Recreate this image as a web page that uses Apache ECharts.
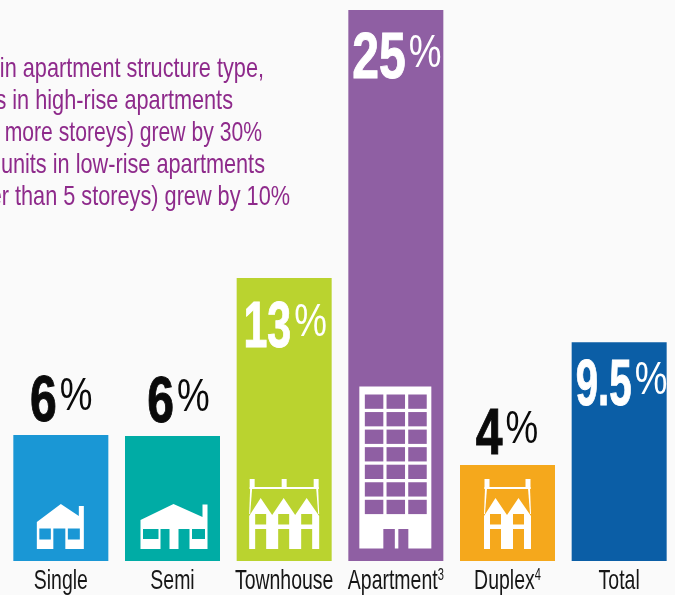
<!DOCTYPE html>
<html>
<head>
<meta charset="utf-8">
<style>
  html, body { margin: 0; padding: 0; background: #fafafa; }
  #chart { width: 675px; height: 595px; }
</style>
<script src="https://cdn.jsdelivr.net/npm/echarts@6/dist/echarts.min.js"></script>
</head>
<body>
<div id="chart"></div>
<script>
const categories = ["Single", "Semi", "Townhouse", "Apartment", "Duplex", "Total"];
const superscripts = ["", "", "", "3", "4", ""];
// bars are not drawn in proportion in the source, so heights are read off the picture
const barHeights = [5.72, 5.67, 12.84, 25, 4.36, 9.93];
const valueLabels = ["6", "6", "13", "25", "4", "9.5"];
const labelInside = [false, false, true, true, false, true];
const barColors = ["#1a97d5", "#00aca5", "#bad32f", "#8f5fa3", "#f5a81c", "#0b5ea6"];
const noteLines = [
  "in apartment structure type,",
  "s in high-rise apartments",
  "r more storeys) grew by 30%",
  "units in low-rise apartments",
  "er than 5 storeys) grew by 10%",
];

// no condensed face is installed, so text gets squeezed with scaleX
const sans = '"Liberation Sans", sans-serif';
const noteRight = [264, 233, 262, 265, 290];
const noteScale = [0.775, 0.775, 0.755, 0.775, 0.775];
const labelSplit = [-4, 1.5, 7, 10, -5, 12.5];
const labelDy = [-32, -32, 51, 50, -29, 45];
const labelScale = [0.74, 0.74, 0.66, 0.74, 0.74, 0.62];

// icon drawing, px relative to bar centre and baseline
const rect = (x, y, w, h, fill) => ({ type: "rect", shape: { x, y, width: w, height: h }, style: { fill } });
const poly = (points, fill) => ({ type: "polygon", shape: { points }, style: { fill } });

function singleIcon(c) {
  return [
    poly([[-24, -39], [0, -57], [18, -45], [18, -55], [23, -55], [23, -12], [-24, -12]], "#fff"),
    rect(-21.5, -32.5, 11.5, 11, c),
    rect(-7.5, -32.5, 12, 20.5, c),
    rect(7, -32.5, 12, 11, c),
  ];
}
function semiIcon(c) {
  return [
    poly([[-32, -41], [1, -57], [30, -44], [30, -56.5], [35, -56.5], [35, -12], [-32, -12]], "#fff"),
    rect(-29.5, -32, 15.5, 10, c),
    rect(-12, -32, 9, 20, c),
    rect(6, -32, 11, 20, c),
    rect(19.5, -32, 13, 10, c),
  ];
}
function rowIcon(c, n) {
  const half = 11.5;
  const left = -half * n - 0.5;
  const right = half * n + 0.5;
  const top = -82;
  const shapes = [
    poly([[left + 1, top + 9], [left + 3, top + 9], [left + 1, -47], [left, -47]], "#fff"),
    poly([[right - 3, top + 9], [right - 1, top + 9], [right, -47], [right - 1, -47]], "#fff"),
    rect(left + 0.5, top, 5, 10, "#fff"),
    rect(right - 5.5, top, 5, 10, "#fff"),
    rect(left + 0.5, top + 8, right - left - 1, 2, "#fff"),
  ];
  if (n === 3) shapes.push(rect(-2.5, top, 5, 10, "#fff"));
  const pts = [[left, -45]];
  for (let i = 0; i < n; i++) {
    const mid = left + half + i * half * 2;
    pts.push([mid, -63]);
    pts.push([mid + half, -46]);
  }
  pts[pts.length - 1] = [right, -45];
  pts.push([right, -12], [left, -12]);
  shapes.push(poly(pts, "#fff"));
  for (let i = 0; i < n; i++) {
    const mid = left + half + i * half * 2;
    shapes.push(rect(mid - 5.5, -47, 11, 10.5, c));
    shapes.push(rect(mid - 5.5, -32, 11, 20, c));
  }
  return shapes;
}
function towerIcon(c) {
  const shapes = [rect(-36.5, -174.5, 72, 162, "#fff")];
  for (let r = 0; r < 7; r++) {
    for (let k = 0; k < 3; k++) {
      shapes.push(rect(-31 + k * 21.7, -166.5 + r * 17.55, 18.5, 14.3, c));
    }
  }
  shapes.push(rect(-12.5, -32, 11.5, 20, c));
  shapes.push(rect(2.5, -32, 10, 20, c));
  return shapes;
}
const iconBuilders = [singleIcon, semiIcon, (c) => rowIcon(c, 3), towerIcon, (c) => rowIcon(c, 2), null];

function valueTexts(i, p) {
  const fill = labelInside[i] ? "#fff" : "#0a0a0a";
  const x = labelSplit[i];
  const y = p + labelDy[i];
  return [
    {
      type: "text", x, y, scaleX: labelScale[i],
      style: {
        text: valueLabels[i], align: "right", verticalAlign: "middle", fill,
        stroke: fill, lineWidth: 1, font: "bold 65px " + sans,
      },
    },
    {
      type: "text", x: x + 3, y: y - 6, scaleX: 0.8,
      style: { text: "%", align: "left", verticalAlign: "middle", fill, font: "46px " + sans },
    },
  ];
}

function tickText(i) {
  const sup = superscripts[i];
  return {
    type: "text", x: 0, y: 20.5, scaleX: 0.695,
    style: {
      text: categories[i] + (sup ? "{sup|" + sup + "}" : ""),
      align: "center",
      verticalAlign: "middle",
      fill: "#161616",
      font: "28px " + sans,
      rich: { sup: { font: "16px " + sans, fill: "#161616", verticalAlign: "top", padding: [0, 0, 8, 0] } },
    },
  };
}

const chart = echarts.init(document.getElementById("chart"));

const option = {
  backgroundColor: "#fafafa",
  animation: false,
  grid: { left: 5, right: -2, top: 10, bottom: 34 },
  xAxis: {
    type: "category",
    data: categories,
    axisLine: { show: false },
    axisTick: { show: false },
    axisLabel: { show: false },
  },
  yAxis: { type: "value", min: 0, max: 25, show: false },
  series: [
    {
      type: "bar",
      barWidth: 95,
      data: barHeights.map((v, i) => ({ value: v, itemStyle: { color: barColors[i] } })),
    },
    {
      // icons, value labels and category names, all anchored on the axes
      type: "custom",
      data: categories.map((c, i) => [i, barHeights[i]]),
      clip: false,
      renderItem: (params, api) => {
        const i = params.dataIndex;
        const base = api.coord([i, 0]);
        const topY = api.coord([i, barHeights[i]])[1];
        const icon = iconBuilders[i] ? iconBuilders[i](barColors[i]) : [];
        return {
          type: "group",
          x: base[0],
          y: base[1],
          silent: true,
          children: icon.concat(valueTexts(i, topY - base[1]), tickText(i)),
        };
      },
      z: 5,
    },
  ],
  graphic: noteLines.map((line, i) => ({
    type: "text",
    x: noteRight[i],
    y: 69 + i * 32,
    scaleX: noteScale[i],
    style: {
      text: line,
      align: "right",
      verticalAlign: "middle",
      fill: "#8e2a8b",
      font: "28px " + sans,
    },
  })),
};

chart.setOption(option);
</script>
</body>
</html>
